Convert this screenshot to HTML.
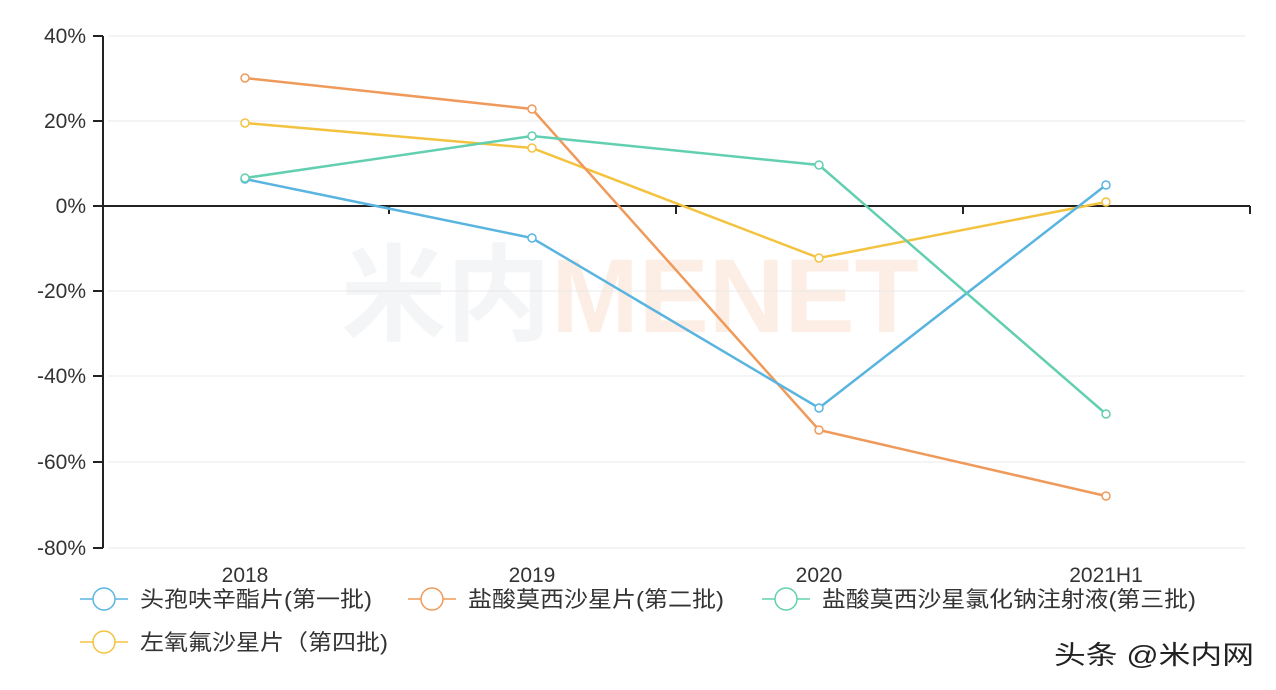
<!DOCTYPE html>
<html><head><meta charset="utf-8"><style>
body{margin:0;background:#fff;}
svg{display:block;font-family:"Liberation Sans","Noto Sans CJK SC",sans-serif;}
</style></head><body>
<svg width="1276" height="690" viewBox="0 0 1276 690">
<rect width="1276" height="690" fill="#fff"/>
<text x="630" y="332" font-size="105" font-weight="bold" fill="#f3f5f7" text-anchor="middle" font-family="Liberation Sans, Noto Sans CJK SC, sans-serif">米内<tspan fill="#fdeee5">MENET</tspan></text>
<g stroke="#e8e8e8" stroke-width="1">
<line x1="108" y1="36" x2="1245" y2="36"/><line x1="108" y1="121" x2="1245" y2="121"/>
<line x1="108" y1="291" x2="1245" y2="291"/><line x1="108" y1="376" x2="1245" y2="376"/>
<line x1="108" y1="462" x2="1245" y2="462"/><line x1="108" y1="548" x2="1245" y2="548"/>
</g>
<g stroke="#222" stroke-width="2">
<line x1="103" y1="36" x2="103" y2="548"/>
<line x1="93" y1="36" x2="103" y2="36"/><line x1="93" y1="121" x2="103" y2="121"/><line x1="93" y1="206" x2="103" y2="206"/><line x1="93" y1="291" x2="103" y2="291"/><line x1="93" y1="376" x2="103" y2="376"/><line x1="93" y1="462" x2="103" y2="462"/><line x1="93" y1="548" x2="103" y2="548"/>
<line x1="103" y1="206" x2="1250" y2="206"/>
<line x1="389" y1="206" x2="389" y2="214"/><line x1="676" y1="206" x2="676" y2="214"/><line x1="963" y1="206" x2="963" y2="214"/><line x1="1250" y1="206" x2="1250" y2="214"/>
</g>
<g font-size="21" fill="#333" text-anchor="end">
<text x="86" y="43">40%</text><text x="86" y="128">20%</text><text x="86" y="213">0%</text><text x="86" y="298">-20%</text><text x="86" y="383">-40%</text><text x="86" y="469">-60%</text><text x="86" y="555">-80%</text>
</g>
<g font-size="21" fill="#333" text-anchor="middle">
<text x="245" y="582">2018</text><text x="532" y="582">2019</text><text x="819" y="582">2020</text><text x="1106" y="582">2021H1</text>
</g>
<g fill="none" stroke-width="2.5">
<polyline stroke="#f3c340" points="245,123 532,148 819,258 1106,202"/>
<polyline stroke="#ef9a5a" points="245,78 532,109 819,430 1106,496"/>
<polyline stroke="#5ab4e0" points="245,179 532,238 819,408 1106,185"/>
<polyline stroke="#62cfb0" points="245,178 532,136 819,165 1106,414"/>
</g>
<g fill="#fff" stroke-width="1.5">
<g stroke="#f3c340"><circle cx="245" cy="123" r="4"/><circle cx="532" cy="148" r="4"/><circle cx="819" cy="258" r="4"/><circle cx="1106" cy="202" r="4"/></g>
<g stroke="#ef9a5a"><circle cx="245" cy="78" r="4"/><circle cx="532" cy="109" r="4"/><circle cx="819" cy="430" r="4"/><circle cx="1106" cy="496" r="4"/></g>
<g stroke="#5ab4e0"><circle cx="245" cy="179" r="4"/><circle cx="532" cy="238" r="4"/><circle cx="819" cy="408" r="4"/><circle cx="1106" cy="185" r="4"/></g>
<g stroke="#62cfb0"><circle cx="245" cy="178" r="4"/><circle cx="532" cy="136" r="4"/><circle cx="819" cy="165" r="4"/><circle cx="1106" cy="414" r="4"/></g>
</g>
<g stroke-width="1.5" fill="#fff">
<line x1="80" y1="599" x2="128" y2="599" stroke="#5ab4e0"/><circle cx="104" cy="599" r="11" stroke="#5ab4e0"/>
<line x1="408" y1="599" x2="456" y2="599" stroke="#ef9a5a"/><circle cx="432" cy="599" r="11" stroke="#ef9a5a"/>
<line x1="762" y1="599" x2="810" y2="599" stroke="#62cfb0"/><circle cx="786" cy="599" r="11" stroke="#62cfb0"/>
<line x1="80" y1="642" x2="128" y2="642" stroke="#f3c340"/><circle cx="104" cy="642" r="11" stroke="#f3c340"/>
</g>
<g font-size="22" fill="#333">
<text x="140" y="607" textLength="232" lengthAdjust="spacingAndGlyphs">头孢呋辛酯片(第一批)</text>
<text x="468" y="607" textLength="256" lengthAdjust="spacingAndGlyphs">盐酸莫西沙星片(第二批)</text>
<text x="822" y="607" textLength="374" lengthAdjust="spacingAndGlyphs">盐酸莫西沙星氯化钠注射液(第三批)</text>
<text x="140" y="650" textLength="248" lengthAdjust="spacingAndGlyphs">左氧氟沙星片（第四批)</text>
<text x="1054" y="664" font-size="26" fill="#222" textLength="200" lengthAdjust="spacingAndGlyphs">头条 @米内网</text>
</g>
</svg>
</body></html>
